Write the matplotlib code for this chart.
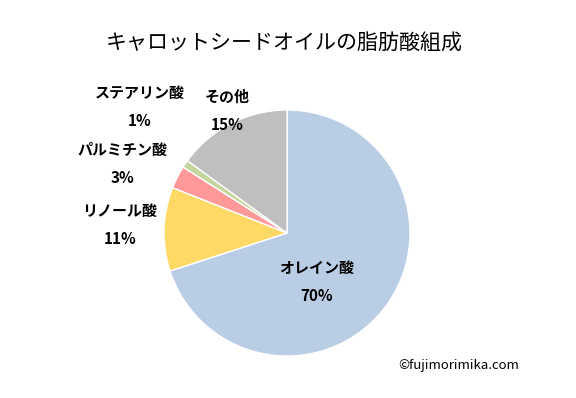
import matplotlib.pyplot as plt

plt.rcParams['font.family'] = ['Noto Sans CJK JP', 'DejaVu Sans']

names = ["オレイン酸", "リノール酸", "パルミチン酸", "ステアリン酸", "その他"]
values = [70, 11, 3, 1, 15]
colors = ["#B9CDE5", "#FFD966", "#FF9999", "#C3D69B", "#BFBFBF"]

# label anchor (centre of name line), in pie data units
label_xy = [(0.244, -0.285), (-1.36, 0.18), (-1.34, 0.675), (-1.195, 1.138), (-0.49, 1.106)]

fig = plt.figure(figsize=(5.76, 3.98), dpi=100)
ax = fig.add_axes([(287 - 123) / 576, (398 - 356) / 398, 246 / 576, 246 / 398])

ax.pie(values, colors=colors, startangle=90, counterclock=False,
       wedgeprops=dict(edgecolor="white", linewidth=1))
ax.set_xlim(-1, 1)
ax.set_ylim(-1, 1)

for name, v, (x, y) in zip(names, values, label_xy):
    ax.text(x, y, name, ha="center", va="center", fontsize=10.8, fontweight="bold")
    ax.text(x, y - 0.225, f"{v}%", ha="center", va="center", fontsize=11, fontweight="bold")

fig.text(284 / 576, 1 - 43 / 398, "キャロットシードオイルの脂肪酸組成",
         ha="center", va="center", fontsize=15.1)
fig.text(459 / 576, 1 - 366 / 398, "©fujimorimika.com",
         ha="center", va="center", fontsize=9.5)

fig.savefig("out.png", dpi=100)
